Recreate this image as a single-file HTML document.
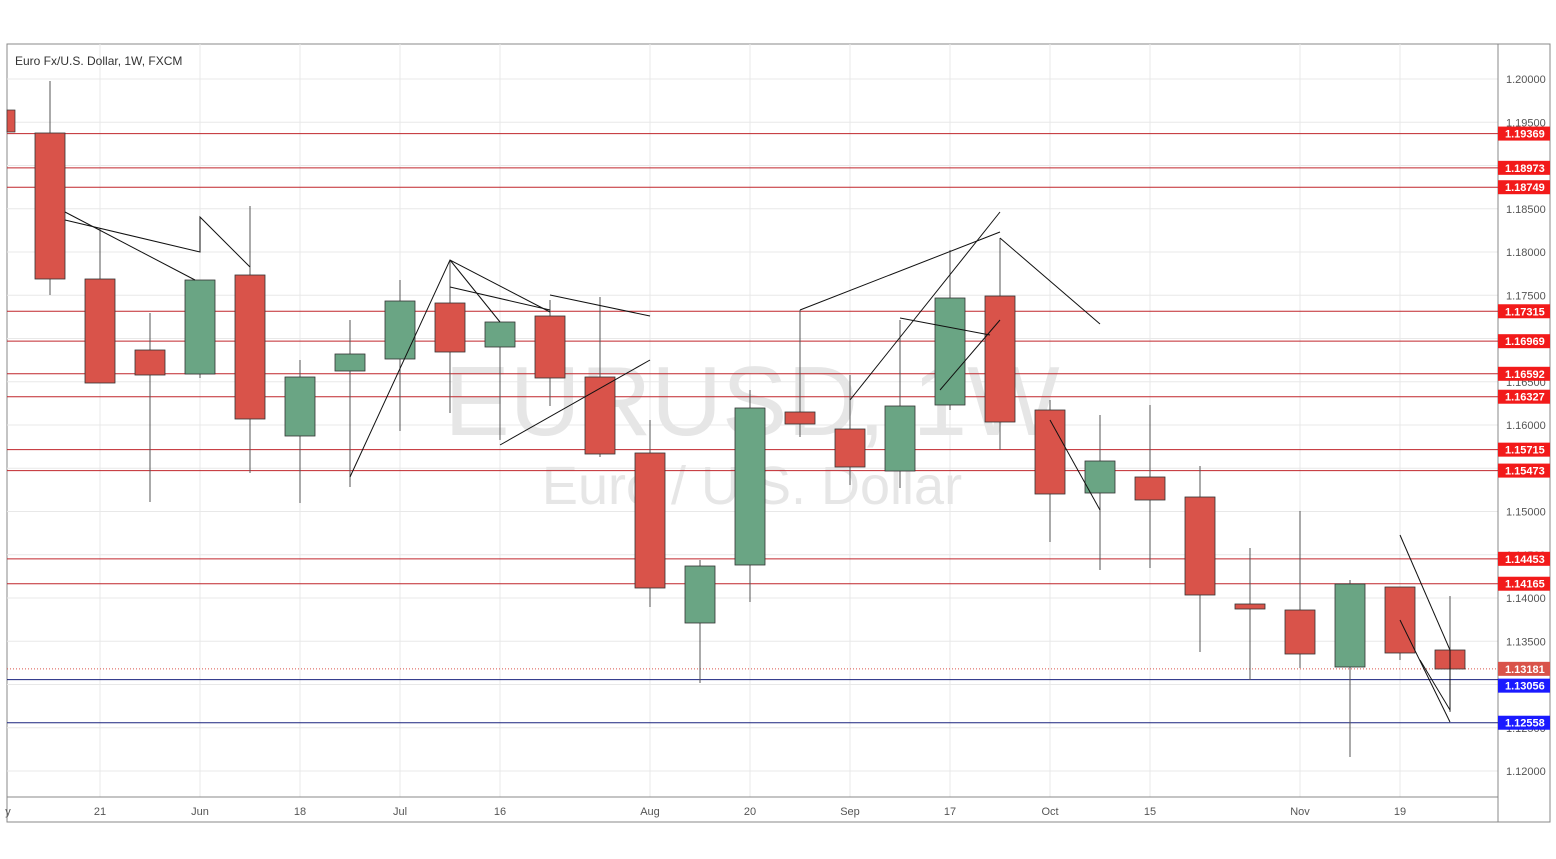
<!DOCTYPE html>
<html><head><meta charset="utf-8"><style>
html,body{margin:0;padding:0;background:#fff;}
svg{display:block;font-family:"Liberation Sans",sans-serif;}
</style></head><body>
<svg id="s" width="1556" height="859" xmlns="http://www.w3.org/2000/svg"></svg>
<script>
const s=document.getElementById('s');let h='';
const Y=p=>79+(1.2-p)*8650;
h+='<rect x="7" y="44" width="1543" height="778" fill="#fff" stroke="#888"/>';
for(let p=1.12;p<=1.2001;p+=0.005){const y=Y(p);h+=`<line x1="7" x2="1498" y1="${y}" y2="${y}" stroke="#e8e8e8"/>`;
h+=`<text x="1506" y="${y+4}" font-size="11" fill="#555">${p.toFixed(5)}</text>`;}
const xl=[[100,'21'],[200,'Jun'],[300,'18'],[400,'Jul'],[500,'16'],[650,'Aug'],[750,'20'],[850,'Sep'],[950,'17'],[1050,'Oct'],[1150,'15'],[1300,'Nov'],[1400,'19'],[8,'y']];
for(const [x,t] of xl){if(x>10)h+=`<line x1="${x}" x2="${x}" y1="44" y2="797" stroke="#e8e8e8"/>`;h+=`<text x="${x}" y="815" font-size="11" fill="#555" text-anchor="middle">${t}</text>`;}
h+='<line x1="1498" x2="1498" y1="44" y2="822" stroke="#888"/><line x1="7" x2="1498" y1="797" y2="797" stroke="#888"/>';
h+='<text x="752" y="435" font-size="98" fill="#e6e6e6" text-anchor="middle">EURUSD, 1W</text>';
h+='<text x="752" y="504" font-size="54" fill="#e6e6e6" text-anchor="middle">Euro / U.S. Dollar</text>';
h+='<text x="15" y="65" font-size="12" fill="#333">Euro Fx/U.S. Dollar, 1W, FXCM</text>';
const lv=['1.19369','1.18973','1.18749','1.17315','1.16969','1.16592','1.16327','1.15715','1.15473','1.14453','1.14165'];
for(const l of lv){const y=Y(+l);h+=`<line x1="7" x2="1498" y1="${y}" y2="${y}" stroke="#c0262c" stroke-width="1"/>`;}
h+=`<line x1="7" x2="1498" y1="${Y(1.13181)}" y2="${Y(1.13181)}" stroke="#d9534a" stroke-dasharray="1,2"/>`;
for(const l of ['1.13056','1.12558']){const y=Y(+l);h+=`<line x1="7" x2="1498" y1="${y}" y2="${y}" stroke="#1a237e"/>`;}
const c=[[50,133,279,81,295,0],[100,279,383,228,383,0],[150,350,375,313,502,0],[200,280,374,280,378,1],[250,275,419,206,473,0],[300,377,436,360,503,1],[350,354,371,320,487,1],[400,301,359,280,431,1],[450,303,352,260,413,0],[500,322,347,322,440,1],[550,316,378,300,406,0],[600,377,454,297,457,0],[650,453,588,420,607,0],[700,566,623,560,683,1],[750,408,565,390,602,1],[800,412,424,310,437,0],[850,429,467,375,485,0],[900,406,471,320,488,1],[950,298,405,250,410,1],[1000,296,422,238,450,0],[1050,410,494,400,542,0],[1100,461,493,415,570,1],[1150,477,500,405,568,0],[1200,497,595,466,652,0],[1250,604,609,548,680,0],[1300,610,654,511,668,0],[1350,584,667,580,757,1],[1400,587,653,587,660,0],[1450,650,669,596,712,0]];
h+='<rect x="7" y="110" width="8" height="22" fill="#d9534a" stroke="#333" stroke-width="0.7"/>';
for(const [x,t,b,hi,lo,g] of c){h+=`<line x1="${x}" x2="${x}" y1="${hi}" y2="${lo}" stroke="#555"/>`;
h+=`<rect x="${x-15}" y="${t}" width="30" height="${Math.max(b-t,3)}" fill="${g?'#6aa584':'#d9534a'}" stroke="#333" stroke-width="0.8"/>`;}
const tl=['65,212 195,280','65,220 200,252 200,217 250,267','350,477 450,260 550,312','450,260 500,322','450,287 550,310','550,295 650,316','500,445 650,360','800,310 1000,232','850,400 1000,212','900,318 990,335','1000,238 1100,324','940,390 1000,320','1050,420 1100,510','1400,535 1450,650','1400,620 1450,722','1420,660 1450,710 1450,650'];
for(const p of tl)h+=`<polyline points="${p}" fill="none" stroke="#111" stroke-width="1"/>`;
const lab=(v,y,col)=>{h+=`<rect x="1498" y="${y-7}" width="52" height="14" fill="${col}"/><text x="1505" y="${y+4}" font-size="11" font-weight="bold" fill="#fff">${v}</text>`;};
for(const l of lv)lab(l,Y(+l),'#f21a1a');
lab('1.13181',Y(1.13181),'#d9534a');lab('1.13056',Y(1.13056)+6,'#1a1aff');lab('1.12558',Y(1.12558),'#1a1aff');
s.innerHTML=h;
</script></body></html>
